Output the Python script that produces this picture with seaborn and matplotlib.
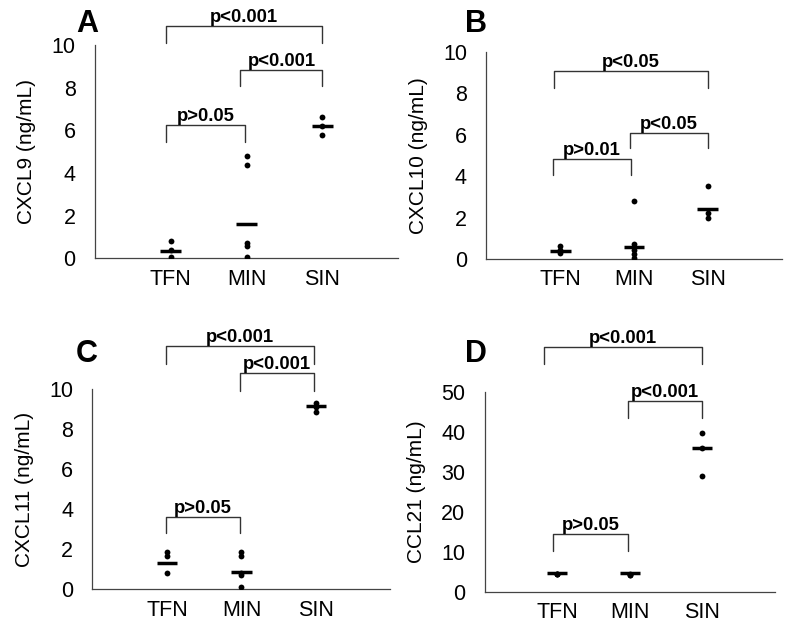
import pandas as pd
import seaborn as sns
import matplotlib.pyplot as plt

# groupes
groups = ['TFN', 'MIN', 'SIN']

# valeurs (ng/mL)
cxcl9_tfn = [0.8, 0.4, 0.05]
cxcl9_min = [4.82, 4.39, 0.70, 0.59, 0.05]
cxcl9_sin = [6.62, 6.21, 5.76]
cxcl9_mean = [0.36, 1.6, 6.2]

cxcl10_tfn = [0.65, 0.45, 0.3]
cxcl10_min = [2.81, 0.72, 0.43, 0.24, 0.03]
cxcl10_sin = [3.52, 2.2, 1.98]
cxcl10_mean = [0.4, 0.59, 2.41]

cxcl11_tfn = [1.85, 1.68, 0.83]
cxcl11_min = [1.88, 1.67, 0.83, 0.7, 0.1]
cxcl11_sin = [9.33, 9.13, 8.88]
cxcl11_mean = [1.33, 0.88, 9.15]

ccl21_tfn = [4.4, 4.5, 4.6]
ccl21_min = [4.25, 4.35, 4.45]
ccl21_sin = [39.8, 36.0, 29.1]
ccl21_mean = [4.8, 4.8, 36.0]

# crochets : (x1, x2, barre, pied, texte)
brackets_a = [(-0.06, 2.0, 10.87, 10.09, 'p<0.001'),
              (0.92, 2.0, 8.81, 8.09, 'p<0.001'),
              (-0.06, 0.98, 6.26, 5.47, 'p>0.05')]
brackets_b = [(-0.09, 2.0, 9.07, 8.27, 'p<0.05'),
              (0.95, 2.0, 6.09, 5.35, 'p<0.05'),
              (-0.10, 0.96, 4.81, 4.05, 'p>0.01')]
brackets_c = [(-0.01, 1.97, 12.17, 11.25, 'p<0.001'),
              (0.98, 1.97, 10.8, 9.92, 'p<0.001'),
              (-0.01, 0.98, 3.63, 2.8, 'p>0.05')]
brackets_d = [(-0.19, 1.99, 61.3, 56.9, 'p<0.001'),
              (0.97, 1.99, 47.75, 43.4, 'p<0.001'),
              (-0.06, 0.97, 14.4, 10.3, 'p>0.05')]

panels = [
    ('A', 'CXCL9 (ng/mL)', [cxcl9_tfn, cxcl9_min, cxcl9_sin], cxcl9_mean, brackets_a,
     [0.1188, 0.5906, 0.3788, 0.338], 10, 2, (0.109, 0.962)),
    ('B', 'CXCL10 (ng/mL)', [cxcl10_tfn, cxcl10_min, cxcl10_sin], cxcl10_mean, brackets_b,
     [0.608, 0.5895, 0.369, 0.3285], 10, 2, (0.595, 0.962)),
    ('C', 'CXCL11 (ng/mL)', [cxcl11_tfn, cxcl11_min, cxcl11_sin], cxcl11_mean, brackets_c,
     [0.1156, 0.0661, 0.3725, 0.317], 10, 2, (0.109, 0.439)),
    ('D', 'CCL21 (ng/mL)', [ccl21_tfn, ccl21_min, ccl21_sin], ccl21_mean, brackets_d,
     [0.606, 0.0618, 0.3625, 0.317], 50, 10, (0.595, 0.439)),
]

sns.set_theme(style='white')
plt.rcParams['font.family'] = ['Liberation Sans', 'DejaVu Sans']
plt.rcParams['text.color'] = 'black'
plt.rcParams['axes.labelcolor'] = 'black'
plt.rcParams['xtick.labelcolor'] = 'black'
plt.rcParams['ytick.labelcolor'] = 'black'

fig = plt.figure(figsize=(8, 6.31), dpi=100)
axis_color = '#444444'

for letter, ylabel, values, means, brackets, pos, ymax, ystep, lpos in panels:
    ax = fig.add_axes(pos)
    rows = []
    for g, vals in zip(groups, values):
        for v in vals:
            rows.append({'groupe': g, 'valeur': v})
    df = pd.DataFrame(rows)

    sns.stripplot(data=df, x='groupe', y='valeur', order=groups, jitter=False,
                  color='black', size=4.2, ax=ax, zorder=3)
    # traits de moyenne
    ax.hlines(means, [i - 0.14 for i in range(3)], [i + 0.14 for i in range(3)],
              color='black', lw=2.5, zorder=4)

    ax.set_xlim(-1, 3)
    ax.set_ylim(0, ymax)
    ax.set_xticks([-1, 0, 1, 2, 3])
    ax.set_xticklabels([''] + groups + [''], fontsize=15.5)
    ax.set_yticks(range(0, ymax + 1, ystep))
    ax.set_yticklabels([str(t) for t in range(0, ymax + 1, ystep)], fontsize=15.5)
    ax.set_xlabel('')
    ax.set_ylabel(ylabel, fontsize=15, labelpad=11)

    for s in ['top', 'right']:
        ax.spines[s].set_visible(False)
    for s in ['left', 'bottom']:
        ax.spines[s].set_color(axis_color)
        ax.spines[s].set_linewidth(0.9)
    ax.tick_params(axis='y', direction='out', length=4, width=0.8, color=axis_color, pad=10)
    ax.tick_params(axis='x', direction='inout', length=5, width=0.8, color=axis_color, pad=5)

    for x1, x2, ybar, yleg, txt in brackets:
        ax.plot([x1, x1, x2, x2], [yleg, ybar, ybar, yleg], color='#333333',
                lw=1.0, clip_on=False)
        ax.text((x1 + x2) / 2, ybar, txt, ha='center', va='bottom',
                fontsize=13.3, fontweight='bold', clip_on=False)

    fig.text(lpos[0], lpos[1], letter, ha='center', va='center',
             fontsize=22, fontweight='bold')

plt.savefig('out.png', dpi=100)
